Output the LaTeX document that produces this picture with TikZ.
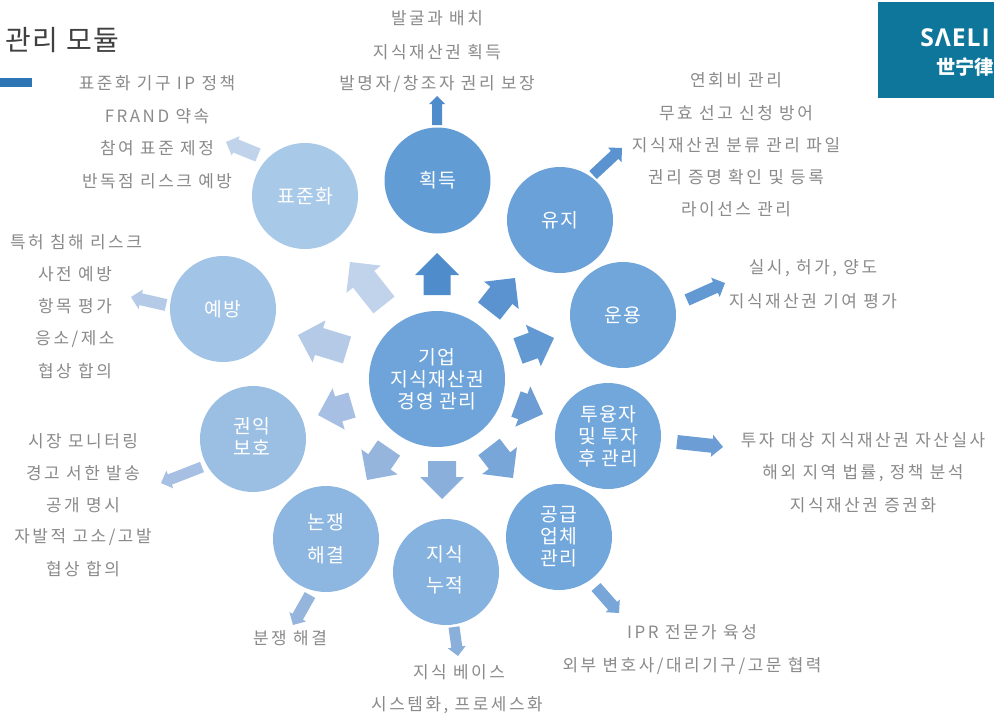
\documentclass[tikz,border=0pt]{standalone}
\usepackage{fontspec}
\setmainfont{Noto Sans CJK KR}
\newfontfamily\krtext[LetterSpace=15]{Noto Sans CJK KR}
\newfontfamily\krcirc[LetterSpace=6]{Noto Sans CJK KR}
\newfontfamily\krtitle[LetterSpace=6]{Noto Sans CJK KR}
\newfontfamily\logolat[LetterSpace=4]{Open Sans}
\newfontfamily\logocjk{Noto Sans CJK SC}
\definecolor{txtgray}{HTML}{8A8A8A}
\definecolor{logoteal}{HTML}{0F769B}
\definecolor{barblue}{HTML}{2E75B6}
\definecolor{aA}{HTML}{4F8CCB}
\definecolor{aB}{HTML}{5A93D0}
\definecolor{aC}{HTML}{6299D2}
\definecolor{aD}{HTML}{6C9DD4}
\definecolor{aE}{HTML}{78A6D8}
\definecolor{aF}{HTML}{8BAFDB}
\definecolor{aG}{HTML}{95B5DD}
\definecolor{aH}{HTML}{A6BFE2}
\definecolor{aI}{HTML}{B4CAE6}
\definecolor{aJ}{HTML}{C0D3EA}
\tikzset{
  x=0.75pt,y=-0.75pt,
  mod/.style={circle,minimum size=79.5pt,inner sep=0pt,outer sep=0pt,text=white,align=center,font=\krcirc\fontsize{14.5}{16.5}\selectfont},
  hub/.style={mod,minimum size=102pt},
  modtext/.style={text=white,align=center,inner sep=0pt,font=\krcirc\fontsize{14.5}{16.5}\selectfont},
  note/.style={text=txtgray,anchor=center,inner sep=0pt,yshift=-1pt,font=\krtext\fontsize{12.7}{15}\selectfont},
}
% name, tail x,y, tip x,y, head width, shaft width, colour (px)
\newcommand{\barrow}[8]{%
  \pgfmathsetmacro{\bang}{atan2(-(#5-#3),#4-#2)}%
  \pgfmathsetmacro{\blen}{veclen(#4-#2,#5-#3)}%
  \pgfmathsetmacro{\bneck}{\blen-#6/2}%
  \pgfmathsetmacro{\bhalf}{#6/2}%
  \pgfmathsetmacro{\bshaft}{#7/2}%
  \coordinate (#1) at (#4,#5);%
  \fill[#8,shift={(#2,#3)},rotate=\bang] (0,-\bshaft) -- (\bneck,-\bshaft) -- (\bneck,-\bhalf) -- (\blen,0) -- (\bneck,\bhalf) -- (\bneck,\bshaft) -- (0,\bshaft) -- cycle;%
}
\begin{document}
\begin{tikzpicture}
\useasboundingbox (0,0) rectangle (994,717);
\fill[white] (0,0) rectangle (994,717);
% logo and title
\node[fill=logoteal,minimum width=87pt,minimum height=72pt,inner sep=0pt,outer sep=0pt,anchor=north west] (logo) at (878,2) {};
\node[anchor=west,text=white,inner sep=0pt,font=\logolat\bfseries\fontsize{18.5}{20}\selectfont] (logoa) at (920,38) {SΛELI};
\node[anchor=west,text=white,inner sep=0pt,font=\logocjk\bfseries\fontsize{14.5}{16}\selectfont] (logob) at (936,67) {世宁律};
\node[anchor=west,text=black!75,inner sep=0pt,font=\krtitle\fontsize{21}{24}\selectfont] (title) at (5,40) {관리 모듈};
\fill[barblue] (0,78) rectangle (32,87);
% modules
\node[hub,fill={rgb,255:red,110;green,164;blue,217}] (hub) at (437,379) {기업\\지식재산권\\경영 관리};
\node[mod,fill={rgb,255:red,98;green,156;blue,212}] (m1) at (437.5,180.5) {획득};
\node[mod,fill={rgb,255:red,106;green,161;blue,216}] (m2) at (560,220) {유지};
\node[mod,fill={rgb,255:red,112;green,166;blue,218}] (m3) at (623,315) {운용};
\node[mod,fill={rgb,255:red,114;green,167;blue,220}] (m4) at (608,436) {투융자\\및 투자\\후 관리};
\node[mod,fill={rgb,255:red,114;green,167;blue,219}] (m5) at (559,537) {공급\\업체\\관리};
\node[mod,fill={rgb,255:red,133;green,178;blue,222}] (m6) at (446,572) {};
\node[modtext] (m6t) at (445,569.5) {지식\\[7pt]누적};
\node[mod,fill={rgb,255:red,141;green,183;blue,224}] (m7) at (326,539) {논쟁\\[8pt]해결};
\node[mod,fill={rgb,255:red,155;green,191;blue,227}] (m8) at (253,439) {};
\node[modtext] (m8t) at (252,436) {권익\\보호};
\node[mod,fill={rgb,255:red,162;green,196;blue,230}] (m9) at (223,309) {예방};
\node[mod,fill={rgb,255:red,169;green,201;blue,232}] (m10) at (305,196) {표준화};
% inner arrows
\barrow{i1}{437}{295}{437}{253}{44}{27}{aA}
\barrow{i2}{489}{311}{515}{278}{44}{28}{aB}
\barrow{i3}{518}{351}{554}{338}{44}{27}{aC}
\barrow{i4}{516}{404}{543}{414}{43}{27}{aD}
\barrow{i5}{489}{447}{513}{478}{44}{27}{aE}
\barrow{i6}{442}{461}{442}{499}{44}{28}{aF}
\barrow{i7}{389}{448}{367}{480}{44}{27}{aG}
\barrow{i8}{352}{405}{318}{415}{43}{26}{aH}
\barrow{i9}{347}{350}{298}{335}{44}{28}{aI}
\barrow{i10}{384}{305}{350}{262}{44}{27}{aJ}
% outer arrows
\barrow{o1}{437}{125}{437}{96}{16}{10}{aA}
\barrow{o2}{593}{175}{622}{148}{20}{11}{aB}
\barrow{o3}{687}{300}{725}{283}{21}{12}{aC}
\barrow{o4}{677}{442}{723}{447}{22}{14}{aD}
\barrow{o5}{596}{587}{619}{613}{19}{12}{aE}
\barrow{o6}{454}{627}{458}{656}{18}{11}{aF}
\barrow{o7}{310}{595}{293}{625}{19}{12}{aG}
\barrow{o8}{202}{467}{161}{483}{19}{11}{aH}
\barrow{o9}{166}{305}{131}{297}{20}{12}{aI}
\barrow{o10}{258}{155}{226}{142}{21}{14}{aJ}
% notes
\node[note] (n1a) at (437,17) {발굴과 배치};
\node[note] (n1b) at (437,51) {지식재산권 획득};
\node[note] (n1c) at (437,83) {발명자/창조자 권리 보장};
\node[note] (n2a) at (736,79) {연회비 관리};
\node[note] (n2b) at (736,112) {무효 선고 신청 방어};
\node[note] (n2c) at (736,144) {지식재산권 분류 관리 파일};
\node[note] (n2d) at (736,176) {권리 증명 확인 및 등록};
\node[note] (n2e) at (736,208) {라이선스 관리};
\node[note] (n3a) at (813,267) {실시, 허가, 양도};
\node[note] (n3b) at (813,300) {지식재산권 기여 평가};
\node[note] (n4a) at (863,439) {투자 대상 지식재산권 자산실사};
\node[note] (n4b) at (863,472) {해외 지역 법률, 정책 분석};
\node[note] (n4c) at (863,504) {지식재산권 증권화};
\node[note] (n5a) at (692,631) {IPR 전문가 육성};
\node[note] (n5b) at (692,665) {외부 변호사/대리기구/고문 협력};
\node[note] (n6a) at (459,671) {지식 베이스};
\node[note] (n6b) at (457,704) {시스템화, 프로세스화};
\node[note] (n7a) at (290,637) {분쟁 해결};
\node[note] (n8a) at (83,440) {시장 모니터링};
\node[note] (n8b) at (83,472) {경고 서한 발송};
\node[note] (n8c) at (83,504) {공개 명시};
\node[note] (n8d) at (83,536) {자발적 고소/고발};
\node[note] (n8e) at (83,568) {협상 합의};
\node[note] (n9a) at (76,241) {특허 침해 리스크};
\node[note] (n9b) at (75,273) {사전 예방};
\node[note] (n9c) at (75,305) {항목 평가};
\node[note] (n9d) at (75,338) {응소/제소};
\node[note] (n9e) at (75,370) {협상 합의};
\node[note] (n10a) at (157,82) {표준화 기구 IP 정책};
\node[note] (n10b) at (157,115) {FRAND 약속};
\node[note] (n10c) at (157,147) {참여 표준 제정};
\node[note] (n10d) at (157,180) {반독점 리스크 예방};
\end{tikzpicture}
\end{document}
